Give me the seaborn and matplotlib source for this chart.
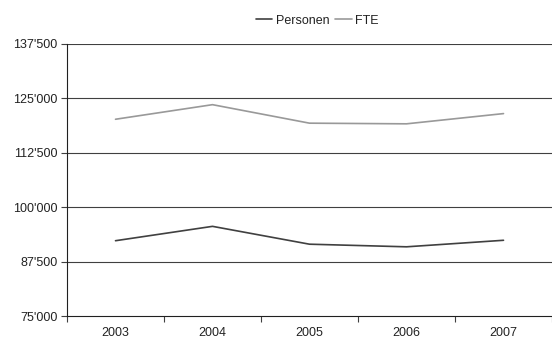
import matplotlib
matplotlib.use("Agg")
import matplotlib.pyplot as plt
import seaborn as sns
import pandas as pd
import numpy as np
from matplotlib.ticker import FixedLocator, FuncFormatter

years = ["2003", "2004", "2005", "2006", "2007"]
personen = [92300, 95600, 91500, 90900, 92400]
fte = [120200, 123550, 119300, 119150, 121500]
y_ticks = [75000, 87500, 100000, 112500, 125000, 137500]

sns.set_style("white")
plt.rcParams['font.family'] = ['Liberation Sans', 'DejaVu Sans']

df = pd.DataFrame({
    "x": list(range(len(years))) * 2,
    "value": personen + fte,
    "series": ["Personen"] * len(years) + ["FTE"] * len(years),
})

fig, ax = plt.subplots(figsize=(5.52, 3.38), dpi=100)
fig.subplots_adjust(left=0.1214, right=1.0, top=0.870, bottom=0.065)

for yv in y_ticks[1:]:
    ax.axhline(yv, color="#404040", lw=0.8, zorder=0)

sns.lineplot(data=df, x="x", y="value", hue="series",
             palette={"Personen": "#404040", "FTE": "#999999"},
             lw=1.2, ax=ax, legend=True)

ax.set_xlim(-0.5, len(years) - 0.5)
ax.set_ylim(y_ticks[0], y_ticks[-1])
ax.set_yticks(y_ticks)
ax.yaxis.set_major_formatter(FuncFormatter(lambda v, p: f"{int(v):,}".replace(",", "'")))
ax.set_xticks(range(len(years)))
ax.set_xticklabels(years)
ax.xaxis.set_minor_locator(FixedLocator(np.arange(-0.5, len(years), 1.0)))
ax.tick_params(axis="x", which="major", length=0, labelsize=9, pad=8, colors="#222222")
ax.tick_params(axis="x", which="minor", length=4, width=0.8, direction="out", color="#404040", bottom=True)
ax.tick_params(axis="y", length=4, width=0.8, direction="out", labelsize=9, color="#404040", left=True, pad=3)
for lab in ax.get_yticklabels():
    lab.set_color("#222222")
ax.set_xlabel("")
ax.set_ylabel("")
for s in ["top", "right"]:
    ax.spines[s].set_visible(False)
for s in ["left", "bottom"]:
    ax.spines[s].set_color("#202020")
    ax.spines[s].set_linewidth(0.8)

leg = ax.legend(loc="center", bbox_to_anchor=(0.516, 1.086), ncol=2, frameon=False,
                fontsize=9, handlelength=1.33, handletextpad=0.27, columnspacing=0.5,
                borderaxespad=0, borderpad=0)
for t in leg.get_texts():
    t.set_color("#222222")

fig.savefig("out.png", dpi=100)
